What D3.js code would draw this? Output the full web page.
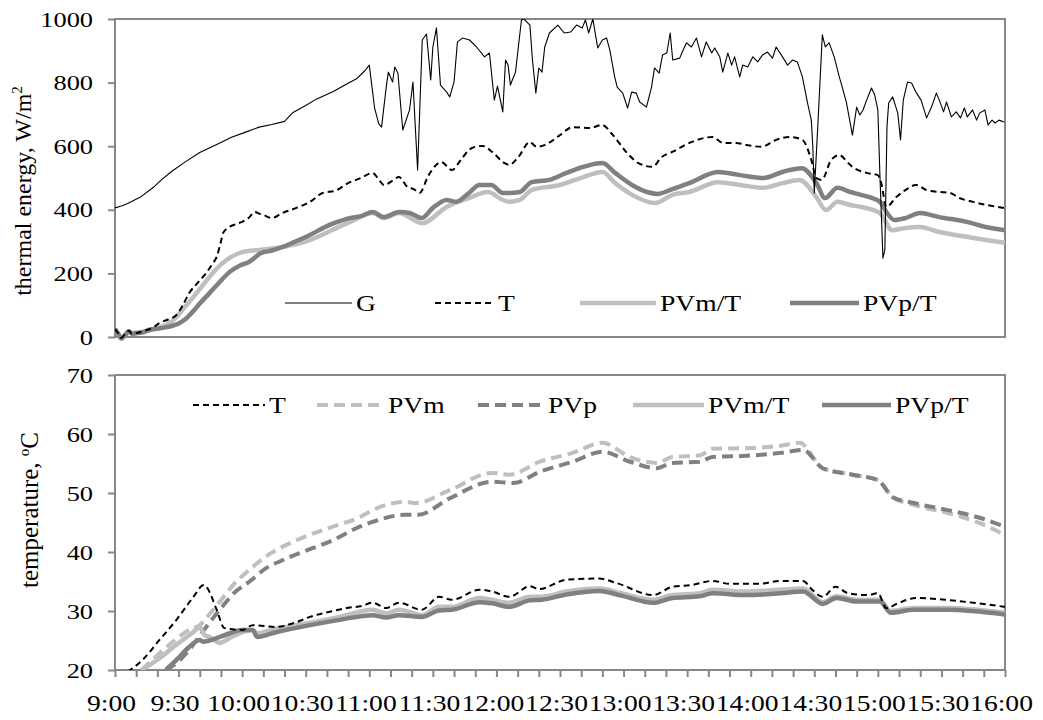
<!DOCTYPE html>
<html>
<head>
<meta charset="utf-8">
<script src="https://cdn.jsdelivr.net/npm/d3@7"></script>
<style>
  html, body { margin: 0; padding: 0; background: #fff; }
  svg text { font-family: "Liberation Serif", "Times New Roman", serif; fill: #000; }
</style>
</head>
<body>
<svg id="chart" width="1043" height="720"></svg>
<script>
// Time is given in minutes after 9:00.

// Upper panel: thermal energy, W/m2
const gSolar = [[0,406],[3,412],[6,420],[12,440],[18,470],[22,495],[27,522],[33,550],[40,580],[48,605],[55,628],[62,645],[68,660],[74,668],[80,678],[84,706],[90,728],[95,748],[103,772],[110,798],[114,812],[118,838],[120,855],[122.5,720],[124.5,670],[125.8,660],[128,786],[129,833],[131,802],[132,849],[133.5,830],[135.8,651],[139,714],[140.6,802],[142.8,525],[145,934],[147,953],[149,808],[150,912],[151.7,972],[153.6,792],[156.5,770],[158,755],[160,802],[161.6,928],[164,940],[167.3,934],[170.6,912],[174.4,881],[176.7,893],[179,745],[180.5,789],[183,708],[184.3,871],[185.5,855],[186.6,792],[187.5,808],[189,833],[191.8,997],[193,1000],[195.8,981],[197,871],[198.6,767],[200,846],[201.5,833],[202.8,912],[205,956],[209,981],[212,956],[215,959],[217.8,981],[220.5,972],[222,997],[223.5,956],[225.5,1000],[227.8,909],[230,934],[232,940],[233.5,903],[235.8,818],[237,786],[239.6,767],[241.9,720],[243.8,770],[246,767],[247.6,739],[250.8,723],[253.2,786],[254.6,846],[256.8,830],[258.4,887],[260.4,893],[262,956],[263.2,871],[266.5,877],[267.5,893],[269.7,925],[272,912],[274.4,940],[276.8,881],[279,928],[281.6,893],[283,909],[285.4,881],[286.8,833],[289.2,893],[291,855],[292.4,881],[294.8,818],[296.2,855],[298.6,849],[301,881],[303.3,865],[305.6,887],[307.9,896],[310.3,877],[312,912],[315,881],[317.4,855],[319.7,871],[322,865],[324.4,818],[326.8,736],[328.6,682],[329.3,598],[330,453],[331.8,682],[333.8,950],[335.2,912],[337,925],[339.4,881],[341.8,818],[343.2,786],[345.2,736],[348,635],[350,723],[351.5,698],[353,714],[354.7,745],[357,783],[358.5,761],[360,714],[361,503],[362.4,248],[363.3,274],[364.3,660],[365.1,736],[367,755],[369.4,704],[370.7,620],[372,745],[374,802],[375.9,799],[378,770],[380.4,745],[383,689],[385.3,723],[387.6,767],[389,745],[391,708],[392.4,739],[394.7,692],[397,708],[399,689],[400.8,720],[402.2,692],[404.7,714],[406.6,682],[408,704],[410.5,714],[412,667],[413.9,682],[415.3,673],[417.2,682],[419.5,676]];

const eT = [[0,25],[1.5,12],[3,-3],[5,12],[6.5,20],[8,10],[10,12],[14,20],[18,30],[21,44],[25,55],[29,69],[32,100],[35,138],[39,170],[43,201],[46,230],[48,252],[50,300],[51,327],[54,346],[57,355],[60,362],[63,374],[66,393],[68,388],[70,384],[74,374],[79,390],[85.6,406],[92,425],[98,453],[104,460],[110,484],[116,500],[121.6,516],[124,500],[127,478],[131,492],[134,503],[138,472],[141,465],[143.7,453],[148,509],[154,550],[159,525],[163,555],[167,588],[170,598],[173.5,601],[178,582],[183.8,547],[186,541],[190,563],[195.8,613],[199,598],[203,604],[210,635],[216,660],[224,657],[229.8,667],[235,635],[241.6,579],[247,547],[253.6,535],[258,566],[263,582],[272,613],[282,629],[287,610],[293,610],[298,604],[305,598],[312,620],[318.6,629],[324.4,620],[328.6,557],[331,500],[333.5,494],[338,557],[341.8,572],[346,547],[348,535],[354.7,516],[360,509],[361.6,484],[364,409],[368.7,440],[373,462],[378,478],[383,462],[389,456],[394,453],[398.5,437],[405,425],[411.4,415],[419.5,406]];

const ePVmT = [[0,25],[1.5,10],[3,-5],[5,8],[6.5,18],[8,12],[10,14],[14,18],[20,28],[27,50],[29,63],[33,95],[38.5,138],[44.6,189],[48,215],[52.6,242],[60,267],[68,274],[79,283],[92,305],[107.5,352],[111,362],[121.6,390],[127,374],[134,390],[145,358],[156.5,409],[167,437],[176,456],[183,431],[186,425],[191,431],[196.6,462],[210,478],[221,503],[230,519],[236,484],[244,447],[255,421],[263,447],[271,456],[284.6,487],[295,478],[306,469],[315,484],[323,494],[331,440],[335.5,399],[341,425],[347,415],[352,409],[361,390],[366.7,336],[373,343],[379.8,346],[389,330],[402,315],[411,305],[420,296]];

const ePVpT = [[0,25],[1.5,10],[3,-5],[5,8],[6.5,18],[8,10],[10,12],[13,14],[16,22],[22,28],[30.5,44],[33,55],[36.6,79],[40,105],[44.6,138],[49,170],[54,204],[59,225],[63,235],[69,264],[74,272],[79,283],[85,300],[92,321],[101,352],[105,362],[110.7,374],[116,380],[121.6,393],[127,377],[134,393],[139,390],[144.8,374],[150,406],[156.5,431],[161,425],[167,453],[172,478],[177.6,478],[183,453],[186,453],[191,456],[196.6,487],[205,494],[213,516],[221,535],[230,547],[236,516],[244,478],[251,456],[256,450],[263,465],[271,484],[284.6,519],[295,509],[306,500],[315,519],[324,531],[331,484],[335,437],[341,469],[347,456],[352,447],[361,425],[364,393],[367.8,368],[373,374],[379.8,390],[389,377],[402,362],[411,346],[420,336]];

// Lower panel: temperature, °C
const tT = [[6,19.7],[13,21.7],[21,25.1],[29,28.5],[36.6,32.2],[42,34.4],[43.5,33.9],[48,30.2],[51.6,27.1],[60,26.8],[65,27.6],[76,27.3],[85.6,28.1],[92,29.0],[103,30.0],[111,30.6],[116,30.8],[121.6,31.4],[128,30.5],[134,31.4],[144.7,30.2],[153,32.4],[159,31.9],[172,33.6],[178,33.3],[186,32.4],[195.8,34.2],[200,33.7],[213,35.3],[228.5,35.5],[237,34.7],[253.9,32.7],[263,34.1],[272,34.4],[282,35.1],[290,34.6],[304,34.6],[314,35.1],[324.7,35.1],[329,33.6],[334,32.4],[340,34.1],[346,33.0],[355,32.7],[360,33.0],[364,30.5],[370,31.4],[378,32.2],[392,31.9],[405,31.4],[420,30.7]];

const tPVm = [[12.5,20],[20,22.5],[28,25],[36,27],[40,27.6],[42.3,28.5],[47,30.5],[52.6,33.0],[55.5,34.3],[63.5,37.0],[71.5,39.3],[87,42.2],[102.8,44.3],[115.5,45.9],[121.6,47.1],[137,48.5],[142,48.3],[158,50.5],[178,53.4],[186,53.1],[200.5,55.3],[216,56.8],[230,58.5],[243,56.1],[255.6,55.1],[263,56.1],[276,56.4],[282,57.5],[298,57.6],[314,58.0],[323,58.5],[334,54.2],[348,53.1],[360,52.2],[367,49.3],[377,48.0],[393,46.6],[408,44.9],[420,42.9]];

const tPVp = [[24,20],[30,21.5],[35,23.4],[42,26.8],[51,30.9],[56,33],[63.5,35],[71.5,37.3],[79,38.6],[87,39.8],[102.8,42],[115.5,44.3],[121.6,45.1],[137,46.3],[143,46.3],[158,49.1],[178,51.9],[188,51.7],[200.5,53.6],[216,55.3],[230,57.0],[243,55.3],[255.6,54.2],[263,55.1],[276,55.3],[282,56.1],[298,56.3],[314,56.8],[324.7,57.3],[334,54.2],[348,53.1],[360,52.2],[367,49.3],[377,48.3],[393,47.1],[408,45.8],[420,44.3]];

const tPVmT = [[12.5,20],[21,22],[29,24.3],[36.6,26.3],[40,27.3],[42.3,25.9],[44.6,25.6],[49.5,24.6],[54,25.4],[60,26.4],[65,26.8],[67,26.2],[76,27.0],[92,28.0],[106,29.0],[121.6,30.2],[128,29.6],[134,30.2],[145,29.3],[153,30.7],[159,30.7],[172,32.2],[178,31.9],[186,31.4],[195.8,32.4],[201.5,32.4],[213,33.3],[228.5,33.8],[239,33.0],[254,31.9],[263,32.7],[276,33.0],[282,33.6],[298,33.3],[314,33.6],[324.7,33.8],[334,31.5],[340.5,32.5],[350,31.9],[361,31.9],[366,30.0],[377,30.5],[393,30.5],[420,29.7]];

const tPVpT = [[24,20],[29,21.7],[35,23.9],[40,25.1],[41.5,24.8],[49.5,25.6],[60,26.8],[65,26.8],[67,25.6],[76,26.4],[92,27.6],[106,28.5],[121.6,29.3],[128,28.9],[134,29.3],[145,29.0],[153,30.1],[159,30.2],[172,31.5],[178,31.3],[186,30.7],[195.8,31.8],[201.5,31.9],[213,32.8],[228.5,33.4],[239,32.6],[254,31.4],[263,32.2],[276,32.5],[282,33.0],[298,32.7],[314,33.0],[324.7,33.3],[334,31.2],[340.5,32.2],[350,31.6],[361,31.6],[366,29.7],[377,30.2],[393,30.2],[420,29.4]];

const energyTicks = [0, 200, 400, 600, 800, 1000];
const tempTicks = [20, 30, 40, 50, 60, 70];
const timeTicks = d3.range(0, 421, 10);          // minor ticks every 10 min
const timeLabels = ["9:00","9:30","10:00","10:30","11:00","11:30","12:00","12:30","13:00","13:30","14:00","14:30","15:00","15:30","16:00"];

// ---- styles
const LIGHT = "#bfbfbf", DARK = "#808080", FRAME = "#878787";
const styles = {
  G:      {stroke: "#000", width: 1.1, dash: null},
  T:      {stroke: "#000", width: 2, dash: "6,4"},
  PVm:    {stroke: LIGHT, width: 4, dash: "11,6"},
  PVp:    {stroke: DARK, width: 4, dash: "11,6"},
  PVmT:   {stroke: LIGHT, width: 4.5, dash: null},
  PVpT:   {stroke: DARK, width: 4.5, dash: null}
};
const SX = 1.2; // horizontal text stretch

const svg = d3.select("#chart");
const x = d3.scaleLinear().domain([0, 420]).range([115, 1005]);
const yE = d3.scaleLinear().domain([0, 1000]).range([337, 19]);
const yT = d3.scaleLinear().domain([20, 70]).range([670, 375]);

const defs = svg.append("defs");
defs.append("clipPath").attr("id", "clipTop").append("rect")
  .attr("x", 115).attr("y", 19).attr("width", 890).attr("height", 322);
defs.append("clipPath").attr("id", "clipBot").append("rect")
  .attr("x", 115).attr("y", 375).attr("width", 890).attr("height", 295);

function stretch(sel, dx = 0) {
  sel.each(function () {
    const t = d3.select(this);
    const xx = (+t.attr("x") || 0) + dx;
    t.attr("x", xx / SX).attr("transform", `scale(${SX},1)`);
  });
}

function drawSeries(g, data, y, st, curve) {
  g.append("path")
    .datum(data)
    .attr("fill", "none")
    .attr("stroke", st.stroke)
    .attr("stroke-width", st.width)
    .attr("stroke-dasharray", st.dash)
    .attr("stroke-linejoin", "round")
    .attr("d", d3.line().x(d => x(d[0])).y(d => y(d[1])).curve(curve));
}

function frame(y0, y1) {
  svg.append("rect").attr("x", 115).attr("y", y0).attr("width", 890).attr("height", y1 - y0)
    .attr("fill", "none").attr("stroke", FRAME).attr("stroke-width", 2);
}

function leftAxis(y, ticks) {
  const g = svg.append("g").attr("transform", "translate(115,0)")
    .call(d3.axisLeft(y).tickValues(ticks).tickSize(7).tickPadding(15).tickFormat(d3.format("d")));
  g.select(".domain").remove();
  g.selectAll(".tick line").attr("stroke", FRAME).attr("stroke-width", 2);
  g.selectAll(".tick text").attr("font-size", 22).call(stretch);
  return g;
}

function legendItem(x0, x1, y, st, label) {
  svg.append("line").attr("x1", x0).attr("x2", x1).attr("y1", y).attr("y2", y)
    .attr("stroke", st.stroke).attr("stroke-width", st.width).attr("stroke-dasharray", st.dash);
  svg.append("text").attr("x", x1 + 4).attr("y", y + 8).attr("font-size", 23).text(label).call(stretch);
}

// ---- upper panel
frame(19, 337);
leftAxis(yE, energyTicks);
const upperPlot = svg.append("g").attr("clip-path", "url(#clipTop)");
drawSeries(upperPlot, ePVmT, yE, styles.PVmT, d3.curveMonotoneX);
drawSeries(upperPlot, ePVpT, yE, styles.PVpT, d3.curveMonotoneX);
drawSeries(upperPlot, eT, yE, styles.T, d3.curveMonotoneX);
drawSeries(upperPlot, gSolar, yE, styles.G, d3.curveLinear);

svg.append("text").attr("transform", "translate(31,191) rotate(-90)")
  .attr("text-anchor", "middle").attr("font-size", 24)
  .html('thermal energy, W/m<tspan dy="-9" font-size="15">2</tspan>');

legendItem(285, 352, 303, styles.G, "G");
legendItem(435, 494, 303, styles.T, "T");
legendItem(580, 656, 303, styles.PVmT, "PVm/T");
legendItem(790, 859, 303, styles.PVpT, "PVp/T");

// ---- lower panel
frame(375, 670);
leftAxis(yT, tempTicks);
const lowerPlot = svg.append("g").attr("clip-path", "url(#clipBot)");
drawSeries(lowerPlot, tPVm, yT, styles.PVm, d3.curveMonotoneX);
drawSeries(lowerPlot, tPVp, yT, styles.PVp, d3.curveMonotoneX);
drawSeries(lowerPlot, tPVmT, yT, styles.PVmT, d3.curveMonotoneX);
drawSeries(lowerPlot, tPVpT, yT, styles.PVpT, d3.curveMonotoneX);
drawSeries(lowerPlot, tT, yT, styles.T, d3.curveMonotoneX);

const xa = svg.append("g").attr("transform", "translate(0,670)")
  .call(d3.axisBottom(x).tickValues(timeTicks).tickSize(7).tickPadding(18)
    .tickFormat(d => d % 30 === 0 ? timeLabels[d / 30] : ""));
xa.select(".domain").remove();
xa.selectAll(".tick line").attr("stroke", FRAME).attr("stroke-width", 2);
xa.selectAll(".tick text").attr("font-size", 23).attr("text-anchor", "middle").call(stretch, -4);

svg.append("text").attr("transform", "translate(38,510) rotate(-90)")
  .attr("text-anchor", "middle").attr("font-size", 25)
  .html('temperature, <tspan dy="-9" font-size="15">o</tspan><tspan dy="9">C</tspan>');

legendItem(193, 265, 405, styles.T, "T");
legendItem(317, 384, 405, styles.PVm, "PVm");
legendItem(478, 544, 405, styles.PVp, "PVp");
legendItem(633, 704, 405, styles.PVmT, "PVm/T");
legendItem(822, 891, 405, styles.PVpT, "PVp/T");
</script>
</body>
</html>
